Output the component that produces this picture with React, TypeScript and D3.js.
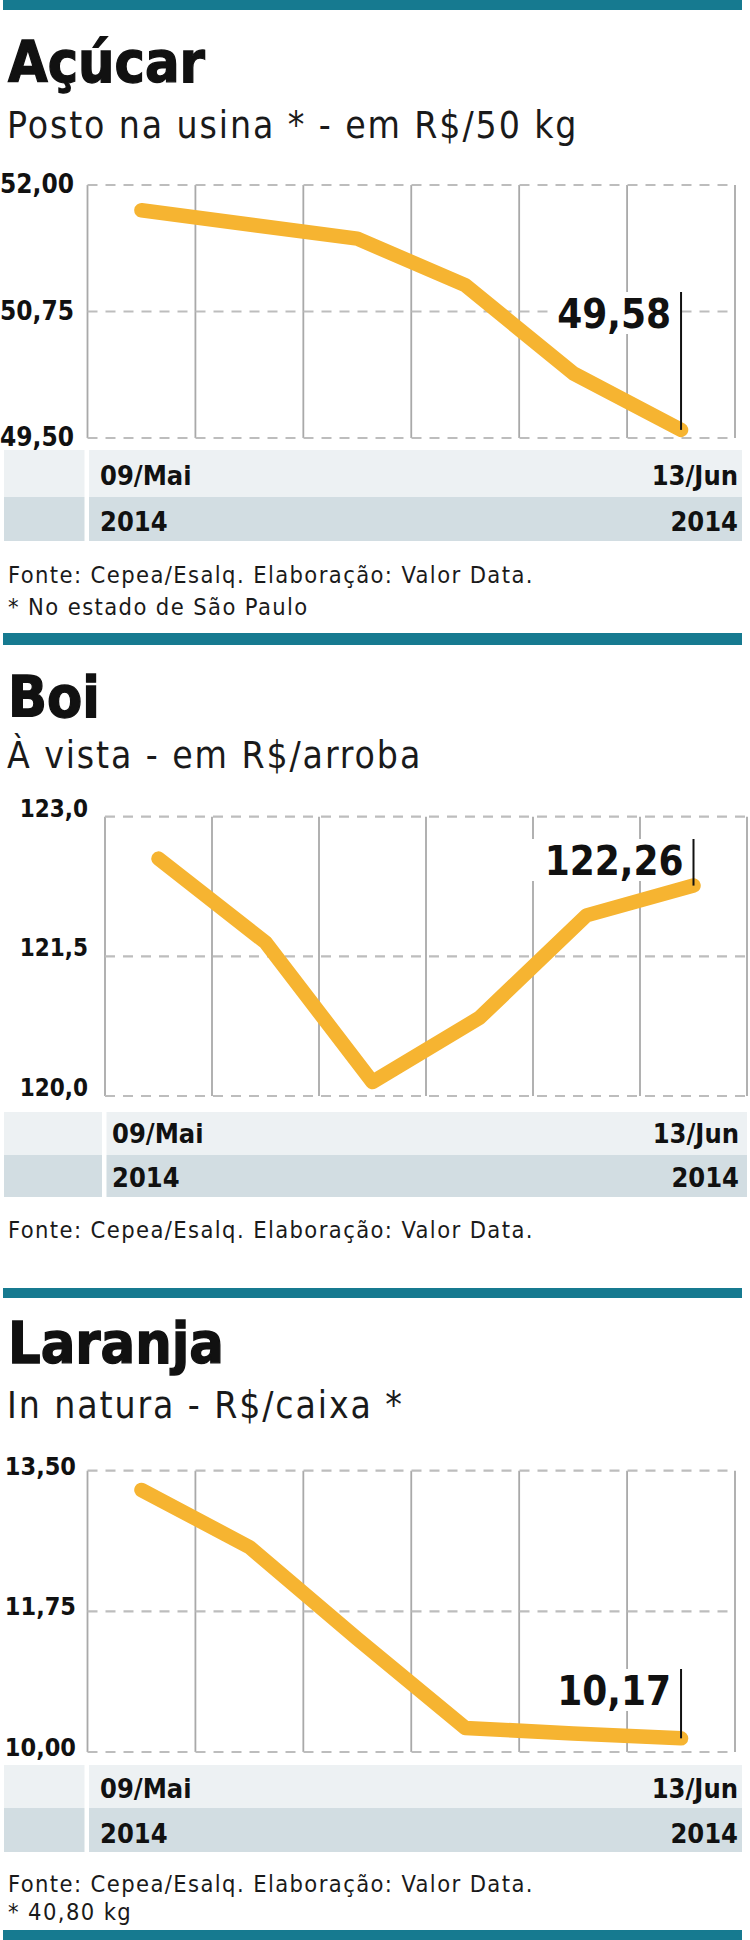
import React from "react";
import * as d3 from "d3";

// weekly quotes, 09/Mai -> 13/Jun 2014
const dates = ["09/Mai", "16/Mai", "23/Mai", "30/Mai", "06/Jun", "13/Jun"];
const years = ["2014", "2014"];

const acucarValues = [51.75, 51.61, 51.47, 51.01, 50.14, 49.58];
const acucarTicks = [49.5, 50.75, 52];

const boiValues = [122.55, 121.65, 120.15, 120.84, 121.94, 122.26];
const boiTicks = [120, 121.5, 123];

const laranjaValues = [13.26, 12.55, 11.41, 10.3, 10.23, 10.17];
const laranjaTicks = [10, 11.75, 13.5];

const TEAL = "#167a90";
const GOLD = "#f6b431";
const COND = "'DejaVu Sans Condensed', 'DejaVu Sans', sans-serif";

const ptBR = d3.formatLocale({
  decimal: ",",
  thousands: ".",
  grouping: [3],
  currency: ["R$ ", ""],
});

const panels = [
  {
    title: "Açúcar",
    subtitle: "Posto na usina * - em R$/50 kg",
    notes: ["Fonte: Cepea/Esalq. Elaboração: Valor Data.", "* No estado de São Paulo"],
    values: acucarValues,
    ticks: acucarTicks,
    tickDigits: 2,
    titleY: 82,
    subtitleY: 138,
    left: 87.5,
    right: 735,
    top: 185,
    bottom: 438,
    tickX: 74,
    tickDy: 8,
    tickSize: 26,
    bandTop: 450,
    bandMid: 497,
    bandBottom: 541,
    bandRight: 742,
    dateX: 100,
    dateRight: 738,
    dateY: 485,
    yearY: 531,
    labelY: 328,
    boxW: 130,
    notesY: [583, 615],
  },
  {
    title: "Boi",
    subtitle: "À vista - em R$/arroba",
    notes: ["Fonte: Cepea/Esalq. Elaboração: Valor Data."],
    values: boiValues,
    ticks: boiTicks,
    tickDigits: 1,
    titleY: 717,
    subtitleY: 768,
    left: 105,
    right: 747,
    top: 816.7,
    bottom: 1096,
    tickX: 88,
    tickDy: 0,
    tickSize: 24,
    bandTop: 1112,
    bandMid: 1155,
    bandBottom: 1197,
    bandRight: 747,
    dateX: 112,
    dateRight: 739,
    dateY: 1143,
    yearY: 1187,
    labelY: 875,
    boxW: 165,
    notesY: [1238],
  },
  {
    title: "Laranja",
    subtitle: "In natura - R$/caixa *",
    notes: ["Fonte: Cepea/Esalq. Elaboração: Valor Data.", "* 40,80 kg"],
    values: laranjaValues,
    ticks: laranjaTicks,
    tickDigits: 2,
    titleY: 1363,
    subtitleY: 1418,
    left: 87.5,
    right: 735,
    top: 1470.7,
    bottom: 1752,
    tickX: 76,
    tickDy: 4,
    tickSize: 25,
    bandTop: 1765,
    bandMid: 1808,
    bandBottom: 1852,
    bandRight: 742,
    dateX: 100,
    dateRight: 738,
    dateY: 1798,
    yearY: 1843,
    labelY: 1705,
    boxW: 160,
    notesY: [1892, 1920],
  },
];

const bars = [
  [0, 10],
  [633, 12],
  [1288, 10],
  [1930, 10],
];

function Panel({ p }) {
  const x = d3.scaleBand().domain(dates).range([p.left, p.right]);
  const y = d3
    .scaleLinear()
    .domain([p.ticks[0], p.ticks[p.ticks.length - 1]])
    .range([p.bottom, p.top]);
  const cx = (d) => x(d) + x.bandwidth() / 2;
  const path = d3
    .line()
    .x((_, i) => cx(dates[i]))
    .y((d) => y(d))(p.values);
  const fmtTick = ptBR.format(`.${p.tickDigits}f`);
  const fmtValue = ptBR.format(".2f");
  const edges = [...dates.map((d) => x(d)), p.right];
  const last = p.values.length - 1;
  const lx = cx(dates[last]);
  const ly = y(p.values[last]);
  const lineTop = p.labelY - 36;

  return (
    <g>
      <text
        x={8}
        y={p.titleY}
        fontFamily={COND}
        fontWeight="bold"
        fontSize={57}
        fill="#111"
        stroke="#111"
        strokeWidth={1.3}
      >
        {p.title}
      </text>
      <text x={7} y={p.subtitleY} fontFamily={COND} fontSize={37} letterSpacing={1.9} fill="#1a1a1a">
        {p.subtitle}
      </text>

      {/* grid */}
      {edges.map((ex, i) => (
        <line key={"v" + i} x1={ex} x2={ex} y1={p.top} y2={p.bottom} stroke="#a9a9a9" strokeWidth={1.8} />
      ))}
      {p.ticks.map((t) => (
        <g key={"h" + t}>
          <line
            x1={p.left}
            x2={p.right}
            y1={y(t)}
            y2={y(t)}
            stroke="#bdbdbd"
            strokeWidth={2.2}
            strokeDasharray="10 8"
          />
          <text
            x={p.tickX}
            y={y(t) + p.tickDy}
            textAnchor="end"
            fontFamily={COND}
            fontWeight="bold"
            fontSize={p.tickSize}
            fill="#111"
          >
            {fmtTick(t)}
          </text>
        </g>
      ))}

      {/* white box behind last value */}
      <rect x={lx - p.boxW} y={lineTop} width={p.boxW - 1} height={p.labelY - lineTop + 6} fill="#fff" />

      <path d={path} fill="none" stroke={GOLD} strokeWidth={14.5} strokeLinejoin="round" strokeLinecap="round" />

      <text
        x={lx - 10}
        y={p.labelY}
        textAnchor="end"
        fontFamily={COND}
        fontWeight="bold"
        fontSize={40}
        fill="#111"
      >
        {fmtValue(p.values[last])}
      </text>
      <line x1={lx} x2={lx} y1={lineTop} y2={ly} stroke="#111" strokeWidth={2} />

      {/* x axis bands */}
      <rect x={4} y={p.bandTop} width={p.left - 7} height={p.bandMid - p.bandTop} fill="#edf1f3" />
      <rect x={p.left + 1.5} y={p.bandTop} width={p.bandRight - p.left - 1.5} height={p.bandMid - p.bandTop} fill="#edf1f3" />
      <rect x={4} y={p.bandMid} width={p.left - 7} height={p.bandBottom - p.bandMid} fill="#d2dde2" />
      <rect x={p.left + 1.5} y={p.bandMid} width={p.bandRight - p.left - 1.5} height={p.bandBottom - p.bandMid} fill="#d2dde2" />

      <g fontFamily={COND} fontWeight="bold" fontSize={27} fill="#111">
        <text x={p.dateX} y={p.dateY}>{dates[0]}</text>
        <text x={p.dateRight} y={p.dateY} textAnchor="end">{dates[last]}</text>
        <text x={p.dateX} y={p.yearY}>{years[0]}</text>
        <text x={p.dateRight} y={p.yearY} textAnchor="end">{years[1]}</text>
      </g>

      {p.notes.map((n, i) => (
        <text key={n} x={8} y={p.notesY[i]} fontFamily={COND} fontSize={23.5} letterSpacing={1.4} fill="#1a1a1a">
          {n}
        </text>
      ))}
    </g>
  );
}

export default function App() {
  return (
    <div style={{ position: "absolute", left: 0, top: 0, width: 750, height: 1940, background: "#fff" }}>
      <svg width={750} height={1940} style={{ display: "block" }}>
        <rect width={750} height={1940} fill="#fff" />
        {bars.map(([by, bh]) => (
          <rect key={by} x={3} y={by} width={739} height={bh} fill={TEAL} />
        ))}
        {panels.map((p) => (
          <Panel key={p.title} p={p} />
        ))}
      </svg>
    </div>
  );
}
